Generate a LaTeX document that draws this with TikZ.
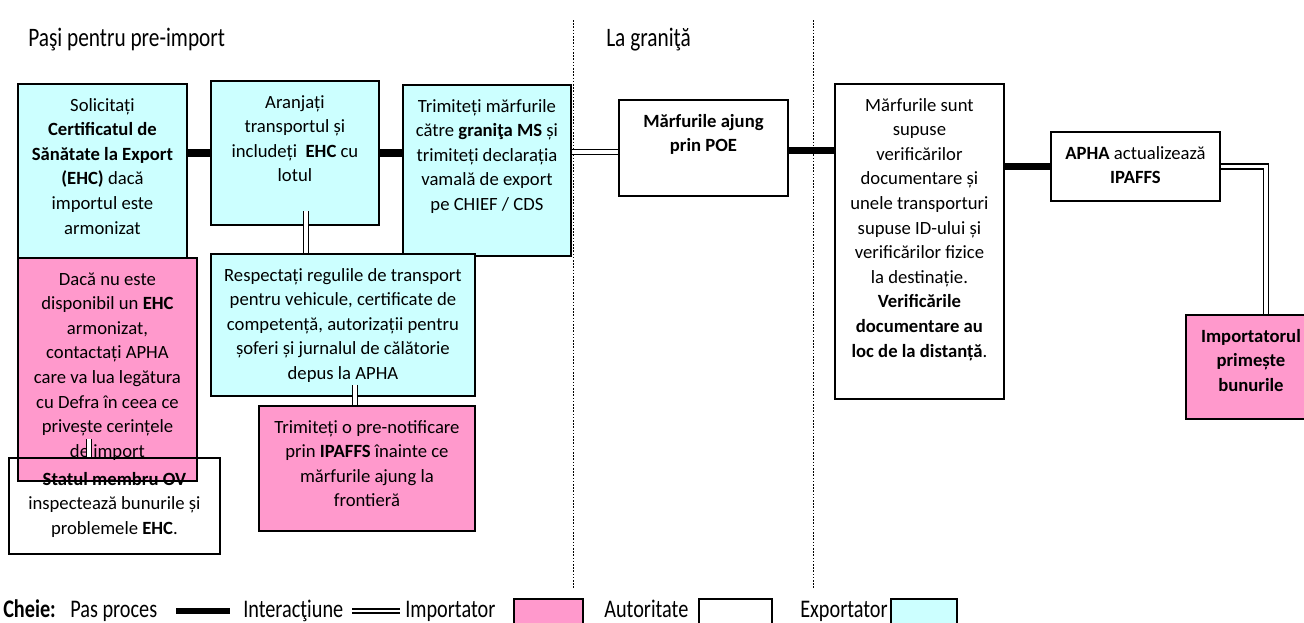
\documentclass[tikz,border=0pt]{standalone}
\usepackage{fontspec}
\setmainfont{Carlito}
\usepackage{graphicx}
\usepackage{tikz}
\usetikzlibrary{arrows.meta}

\definecolor{importpink}{RGB}{255,153,204}
\definecolor{exportcyan}{RGB}{204,255,255}
\newdimen\pxdim \pxdim=0.75pt
\newcommand{\boxtext}[3]{\parbox[c][#2\pxdim][t]{#1\pxdim}{\centering\vspace*{7.5pt}\strut #3\par}}
\newcommand{\headtext}[1]{\scalebox{0.8}[1]{\fontsize{20}{24}\selectfont #1}}
\newcommand{\keytext}[1]{\scalebox{0.8}[1]{\fontsize{19}{23}\selectfont #1}}

\tikzset{
  stepbox/.style={draw, line width=1.4pt, inner sep=0pt, anchor=north west,
    font=\fontsize{14}{18.45}\selectfont},
  importer/.style={stepbox, fill=importpink},
  authority/.style={stepbox},
  exporter/.style={stepbox, fill=exportcyan},
  procline/.style={line width=5.5pt},
  interline/.style={double, line width=1.1pt, double distance=2.4pt},
  divider/.style={dash pattern=on 1.2pt off 1.2pt, line width=0.6pt},
  keylabel/.style={anchor=base west, inner sep=0pt},
}

\begin{document}
\begin{tikzpicture}[x=0.75pt, y=-0.75pt]
      \useasboundingbox (0,0) rectangle (1304,622);

      \draw[divider] (573,20) -- (573,588);
      \draw[divider] (813,20) -- (813,588);
      \node[anchor=west, inner sep=0pt] (preimport) at (28,40) {\headtext{Paşi pentru pre-import}};
      \node[anchor=west, inner sep=0pt] (atborder) at (606,40) {\headtext{La graniţă}};

      \node[exporter] (solicit) at (17,83) {\boxtext{169}{175}{Solicitați\\ \textbf{Certificatul de}\\ \textbf{Sănătate la Export}\\ \textbf{(EHC)} dacă\\ importul este\\ armonizat}};
      \node[exporter] (arrange) at (210,80) {\boxtext{168}{144}{Aranjați\\ transportul și\\ includeți\ \ \textbf{EHC} cu\\ lotul}};
      \node[exporter] (send) at (402,84) {\boxtext{168}{171}{Trimiteți mărfurile\\ către \textbf{graniţa MS} și\\ trimiteți declarația\\ vamală de export\\ pe CHIEF / CDS}};
      \node[authority] (arrive) at (618,99) {\boxtext{169}{96}{\textbf{Mărfurile ajung}\\ \textbf{prin POE}}};
      \node[authority] (checks) at (834,83) {\boxtext{169}{315}{Mărfurile sunt\\ supuse\\ verificărilor\\ documentare și\\ unele transporturi\\ supuse ID-ului și\\ verificărilor fizice\\ la destinație.\\ \textbf{Verificările}\\ \textbf{documentare au}\\ \textbf{loc de la distanță}.}};
      \node[authority] (update) at (1050,131) {\boxtext{169}{69}{\textbf{APHA} actualizează\\ \textbf{IPAFFS}}};
      \node[importer] (receive) at (1185,314) {\boxtext{130}{104}{\textbf{Importatorul}\\ \textbf{primește}\\ \textbf{bunurile}}};

      \node[exporter] (rules) at (210,253) {\boxtext{264}{142}{Respectați regulile de transport\\ pentru vehicule, certificate de\\ competență, autorizații pentru\\ șoferi și jurnalul de călătorie\\ depus la APHA}};
      \node[importer] (notify) at (258,405) {\boxtext{216}{125}{Trimiteți o pre-notificare\\ prin \textbf{IPAFFS} înainte ce\\ mărfurile ajung la\\ frontieră}};
      \node[importer] (contact) at (17,257) {\boxtext{179}{223}{Dacă nu este\\ disponibil un \textbf{EHC}\\ armonizat,\\ contactați APHA\\ care va lua legătura\\ cu Defra în ceea ce\\ privește cerințele\\ de import}};
      \node[authority] (inspect) at (8,457) {\boxtext{211}{96}{\textbf{Statul membru OV}\\ inspectează bunurile și\\ problemele \textbf{EHC}.}};

      \coordinate (cd) at ([yshift=-3pt]arrive.west);
      \coordinate (de) at ([yshift=-2pt]arrive.east);
      \coordinate (bh) at ([xshift=8.25pt,yshift=11.25pt]arrange.south);
      \coordinate (hk) at ([xshift=9pt,yshift=9pt]rules.south);
      \coordinate (ij) at ([xshift=-13.9pt,yshift=32.25pt]contact.south);

      \draw[procline] (solicit.east |- arrange.west) -- (arrange.west);
      \draw[procline] (arrange.east) -- (arrange.east -| send.west);
      \draw[interline] (send.east |- cd) -- (cd);
      \draw[procline] (de) -- (de -| checks.west);
      \draw[procline] (checks.east |- update.west) -- (update.west);
      \draw[interline] (update.east) -| ([xshift=11.25pt]receive.north);
      \draw[interline] (bh) -- (bh |- rules.north);
      \draw[interline] (hk) -- (hk |- notify.north);
      \draw[interline] (ij) -- (ij |- inspect.north);

      \node[keylabel] (keyhead) at (3,617) {\keytext{\textbf{Cheie:}}};
      \node[keylabel] (keystep) at (70,617) {\keytext{Pas proces}};
      \draw[line width=4.5pt] (176,611) -- (230,611);
      \node[keylabel] (keyinter) at (243,617) {\keytext{Interacţiune}};
      \draw[double, line width=1pt, double distance=2pt] (352,611) -- (400,611);
      \node[keylabel] (keyimp) at (405,617) {\keytext{Importator}};
      \draw[line width=0.8pt, fill=importpink] (514,599) rectangle (583,624);
      \node[keylabel] (keyauth) at (604,617) {\keytext{Autoritate}};
      \draw[line width=0.8pt] (699,599) rectangle (772,624);
      \node[keylabel] (keyexp) at (800,617) {\keytext{Exportator}};
      \draw[line width=0.8pt, fill=exportcyan] (891,599) rectangle (957,624);

    \end{tikzpicture}
\end{document}
